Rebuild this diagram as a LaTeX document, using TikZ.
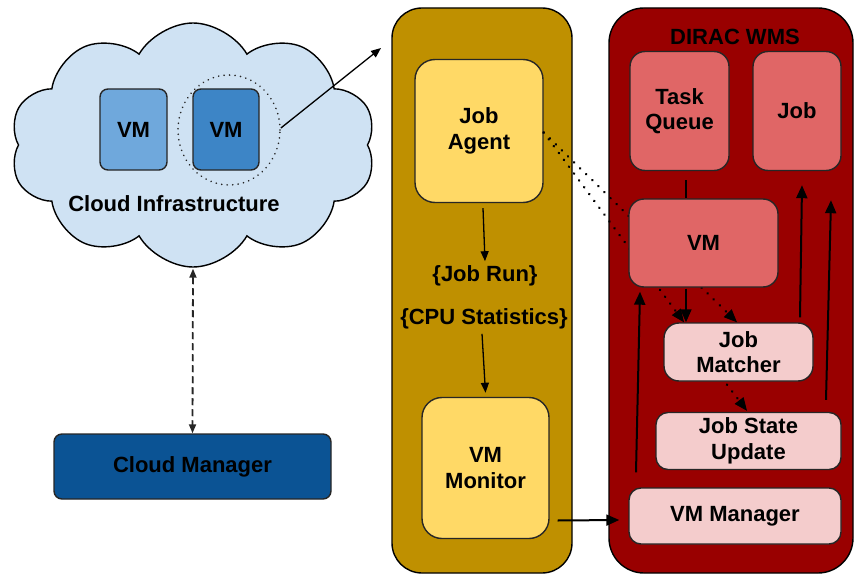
\documentclass[tikz,border=0pt]{standalone}
\usepackage{fontspec}
\setmainfont{Liberation Sans}
\usetikzlibrary{shapes.geometric,shapes.symbols,arrows.meta,calc}
\definecolor{cloudfill}{HTML}{CFE2F3}
\definecolor{vmlight}{HTML}{6FA8DC}
\definecolor{vmdark}{HTML}{3D85C6}
\definecolor{cmblue}{HTML}{0B5394}
\definecolor{gold}{HTML}{BF9000}
\definecolor{yellowbox}{HTML}{FFD966}
\definecolor{darkred}{HTML}{990000}
\definecolor{redbox}{HTML}{E06666}
\definecolor{pinkbox}{HTML}{F4CCCC}
\tikzset{
  txt/.style={font=\fontsize{22}{25.5}\selectfont\bfseries, align=center, text=black},
  box/.style={txt, draw=black!85, line width=1.4pt, rounded corners=#1, inner sep=0pt},
  box/.default=15pt,
  arr/.style={line width=2pt, -{Triangle[length=13pt,width=11pt]}},
  thinarr/.style={line width=1.3pt, -{Triangle[length=10pt,width=8pt]}},
  dotline/.style={line width=2.8pt, dash pattern=on 0.01pt off 8.5pt, line cap=round},
  tiponly/.style={line width=1pt, -{Triangle[length=13pt,width=11pt]}},
}
\begin{document}
\begin{tikzpicture}[x=1pt,y=-1pt]
\useasboundingbox (0,0) rectangle (854,575);
% cloud
\node[cloud, cloud puffs=10, cloud puff arc=120, aspect=1.5, draw=black, line width=1.4pt, fill=cloudfill,
      minimum width=366pt, minimum height=244pt] (cloud) at (193,145) {};
\node[box=8pt, fill=vmlight, minimum width=67pt, minimum height=81pt] (vma) at (133.5,129.5) {VM};
\node[box=8pt, fill=vmdark, minimum width=66pt, minimum height=81pt] (vmb) at (226,129.5) {VM};
\node[ellipse, draw=black!85, line width=1.8pt, dash pattern=on 0.01pt off 5.5pt, line cap=round,
      minimum width=102pt, minimum height=110pt] (sel) at (229,130) {};
\node[txt] (cloudlbl) at (174,204) {Cloud Infrastructure};
\coordinate (out) at (381,48);
\draw[thinarr] ([yshift=2pt]sel.east) -- (out);
% cloud manager
\node[box=8pt, fill=cmblue, minimum width=277pt, minimum height=65pt] (cm) at (192.5,466.5) {Cloud Manager};
\draw[line width=1.8pt, black!85, dash pattern=on 7pt off 4pt,
      {Triangle[length=9pt,width=7pt]}-{Triangle[length=9pt,width=7pt]}]
      ([yshift=-1pt]cloud.south) -- (cm.north);
% columns
\node[draw=black, line width=1.4pt, fill=gold, rounded corners=30pt, minimum width=180pt, minimum height=565pt] (agentcol) at (482,290.5) {};
\node[draw=black, line width=1.4pt, fill=darkred, rounded corners=35pt, minimum width=244pt, minimum height=565pt] (dirac) at (731,290.5) {};
\node[txt] (diraclbl) at (735,37) {DIRAC WMS};
% job agent column
\node[box=20pt, fill=yellowbox, minimum width=128pt, minimum height=143pt] (agent) at (479,131) {Job\\Agent};
\node[txt] (jobrun) at (485,276) {\{Job Run\}};
\node[txt] (cpustat) at (484,319) {\{CPU Statistics\}};
\node[box=20pt, fill=yellowbox, minimum width=127pt, minimum height=141pt] (vmmon) at (485.5,468) {VM\\Monitor};
\draw[thinarr] ([xshift=4pt,yshift=-5pt]agent.south) -- ([yshift=1pt]jobrun.north);
\draw[thinarr] ([xshift=-2pt,yshift=-1pt]cpustat.south) -- ([yshift=4pt]vmmon.north);
% DIRAC boxes
\node[box=15pt, fill=redbox, minimum width=99pt, minimum height=119pt] (taskq) at (679.5,111) {Task\\Queue};
\node[box=15pt, fill=redbox, minimum width=88pt, minimum height=119pt] (job) at (797,111) {Job};
\node[box=15pt, fill=pinkbox, minimum width=149pt, minimum height=58pt] (jobm) at (738.5,352) {Job\\Matcher};
% dotted lines from job agent (behind the VM box)
\coordinate (jaE) at ([yshift=-1.5pt]agent.east);
\coordinate (jmA) at ([xshift=-54.5pt]jobm.north);
\coordinate (jmB) at ([xshift=-1.5pt]jobm.north);
\draw[dotline, shorten >=11pt] (jaE) -- (jmA);
\draw[dotline, shorten >=11pt] (jaE) -- (jmB);
\draw[tiponly] ($(jmA)!13pt!(jaE)$) -- (jmA);
\draw[tiponly] ($(jmB)!13pt!(jaE)$) -- (jmB);
\node[box=15pt, fill=redbox, minimum width=149pt, minimum height=88pt] (vm) at (703.5,243) {VM};
\node[box=12pt, fill=pinkbox, minimum width=185pt, minimum height=57pt] (jsu) at (748.5,441) {Job State\\Update};
\node[box=12pt, fill=pinkbox, minimum width=212pt, minimum height=56pt] (vmman) at (735,516) {VM Manager};
% DIRAC connectors
\draw[line width=2pt] ([xshift=6.5pt,yshift=-9pt]taskq.south) -- ([xshift=-17.5pt]vm.north);
\draw[arr, line width=1.6pt] ([xshift=-17.5pt,yshift=-1pt]vm.south) -- ([xshift=-52.5pt]jobm.north);
\coordinate (jmS) at ([xshift=-11.5pt,yshift=-3pt]jobm.south);
\coordinate (jsN) at ([xshift=-1.5pt,yshift=1pt]jsu.north);
\draw[dotline, shorten >=11pt] (jmS) -- (jsN);
\draw[tiponly] ($(jsN)!13pt!(jmS)$) -- (jsN);
\draw[arr] ([xshift=-99pt,yshift=15pt]vmman.north) -- ([xshift=-63.5pt,yshift=-4pt]vm.south);
\draw[arr] ([xshift=61.5pt,yshift=5pt]jobm.north) -- ([xshift=5pt,yshift=-14pt]job.south);
\draw[arr] ([xshift=77.5pt,yshift=12pt]jsu.north) -- ([xshift=34pt,yshift=-29pt]job.south);
\draw[arr] ([xshift=8pt,yshift=-52.5pt]vmmon.east) -- ([xshift=-9pt,yshift=-4pt]vmman.west);
\end{tikzpicture}
\end{document}
